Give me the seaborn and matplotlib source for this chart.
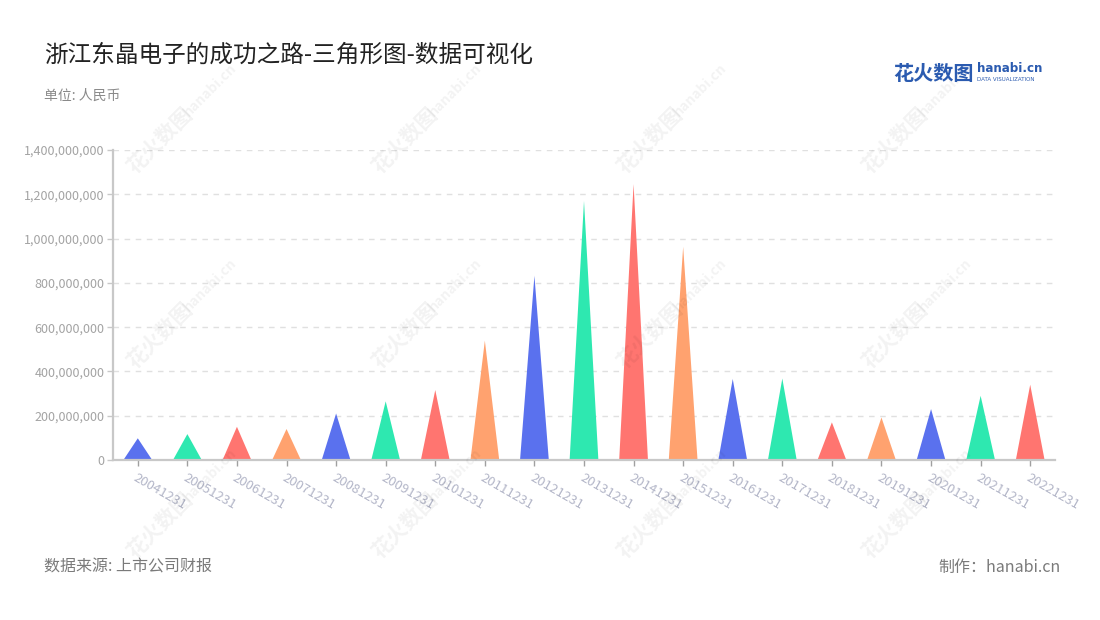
"""Triangle chart: Zhejiang Dongjing Electronics, yearly values (hanabi style)."""
import matplotlib
matplotlib.use("Agg")
import matplotlib.pyplot as plt
from matplotlib.patches import Polygon
from matplotlib.ticker import FuncFormatter
import seaborn as sns

# ---- data ----
dates = ["20041231", "20051231", "20061231", "20071231", "20081231", "20091231",
         "20101231", "20111231", "20121231", "20131231", "20141231", "20151231",
         "20161231", "20171231", "20181231", "20191231", "20201231", "20211231",
         "20221231"]
values = [98e6, 117e6, 150e6, 140e6, 210e6, 265e6,
          316e6, 539e6, 832e6, 1170e6, 1246e6, 963e6,
          366e6, 368e6, 170e6, 192e6, 230e6, 290e6,
          340e6]
y_ticks = [0, 2e8, 4e8, 6e8, 8e8, 10e8, 12e8, 14e8]

title = "浙江东晶电子的成功之路-三角形图-数据可视化"
subtitle = "单位: 人民币"
source = "数据来源: 上市公司财报"
credit = "制作：hanabi.cn"

cycle = ["#5a71ee", "#2ee8b0", "#ff7570", "#ffa26f"]
palette = [cycle[i % len(cycle)] for i in range(len(dates))]

sns.set_theme(style="white")
plt.rcParams["font.family"] = ["Noto Sans CJK SC", "DejaVu Sans"]

fig = plt.figure(figsize=(11, 6.2), dpi=100)
ax = fig.add_axes([113 / 1100, 1 - 460 / 620, 942 / 1100, 310 / 620])

sns.barplot(x=dates, y=values, hue=dates, palette=palette, legend=False,
            width=0.58, saturation=1, ax=ax, zorder=3)

# turn each bar into a triangle with the same footprint
for patch in list(ax.patches):
    x0, w, h = patch.get_x(), patch.get_width(), patch.get_height()
    tri = Polygon([(x0, 0), (x0 + w / 2, h), (x0 + w, 0)], closed=True,
                  facecolor=patch.get_facecolor(), edgecolor="none", zorder=3)
    ax.add_patch(tri)
    patch.remove()

ax.set_xlim(-0.5, len(dates) - 0.5)
ax.set_ylim(0, 1.4e9)
ax.set_yticks(y_ticks)
ax.yaxis.set_major_formatter(FuncFormatter(lambda v, _: f"{v:,.0f}"))
ax.set_xlabel("")
ax.set_ylabel("")

ax.grid(axis="y", color="#e0e0e0", linestyle=(0, (4, 4)), linewidth=1, zorder=0)
ax.grid(axis="x", visible=False)
for side in ("top", "right"):
    ax.spines[side].set_visible(False)
for side in ("left", "bottom"):
    ax.spines[side].set_color("#c8c8c8")
    ax.spines[side].set_linewidth(1.6)
    ax.spines[side].set_zorder(4)

ax.tick_params(axis="y", left=True, length=4, width=1, color="#c8c8c8",
               labelsize=9, labelcolor="#a3a3a3", pad=2)
ax.tick_params(axis="x", bottom=True, length=4, width=1, color="#a0a0a0",
               labelsize=9.5, labelcolor="#b3b6c8", pad=4)
for lbl in ax.get_xticklabels():
    lbl.set_rotation(-30)
    lbl.set_ha("left")
    lbl.set_va("top")
    lbl.set_rotation_mode("anchor")

# faint background watermarks
for wx in (160, 405, 650, 895):
    for wy in (140, 335, 525):
        fig.text(wx / 1100, 1 - wy / 620, "花火数图", rotation=45, fontsize=15,
                 fontweight="bold", color="#000000", alpha=0.05,
                 ha="center", va="center", rotation_mode="anchor", zorder=0)
        fig.text((wx + 50) / 1100, 1 - (wy - 50) / 620, "hanabi.cn", rotation=45,
                 fontsize=10, fontweight="bold", color="#000000", alpha=0.05,
                 ha="center", va="center", rotation_mode="anchor", zorder=0)

# titles and footer
fig.text(44 / 1100, 1 - 55 / 620, title, fontsize=17, color="#222222",
         ha="left", va="center")
fig.text(44 / 1100, 1 - 96 / 620, subtitle, fontsize=10, color="#8a8a8a",
         ha="left", va="center")
fig.text(44 / 1100, 1 - 567 / 620, source, fontsize=11.5, color="#7a7a7a",
         ha="left", va="center")
fig.text(1061 / 1100, 1 - 567 / 620, credit, fontsize=11.5, color="#7a7a7a",
         ha="right", va="center")

# logo
fig.text(893 / 1100, 1 - 73 / 620, "花火数图", fontsize=14.5, fontweight="bold",
         color="#2b5bb0", ha="left", va="center")
fig.text(977 / 1100, 1 - 69 / 620, "hanabi.cn", fontsize=8.6, fontweight="bold",
         color="#2b5bb0", ha="left", va="center", family=["DejaVu Sans"])
fig.text(977 / 1100, 1 - 79.5 / 620, "DATA VISUALIZATION", fontsize=4,
         color="#2b5bb0", ha="left", va="center", family=["DejaVu Sans"])

fig.savefig("out.png", dpi=100, facecolor="white")
